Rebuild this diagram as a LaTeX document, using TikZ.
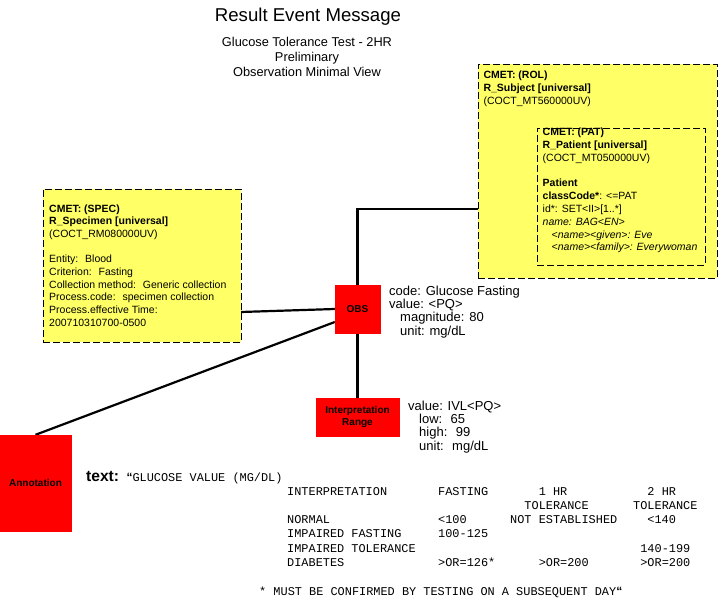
\documentclass[tikz,border=0pt]{standalone}
\usepackage{fontspec}
\setmainfont{Liberation Sans}
\setmonofont{Liberation Mono}
\usepackage{array}
\usetikzlibrary{positioning,backgrounds}

\definecolor{cmetyellow}{RGB}{255,255,102}

\tikzset{
  cmet/.style={draw, fill=cmetyellow, line width=0.9pt, dash pattern=on 7pt off 3pt, inner sep=0pt},
  act/.style={draw=red, fill=red, inner sep=0pt, align=center, font=\bfseries\fontsize{10}{12.7}\selectfont},
  link/.style={line width=2.2pt},
  boxtext/.style={anchor=base west, align=left, inner sep=0pt, font=\fontsize{10.5}{12.6}\selectfont},
  attr/.style={anchor=base west, align=left, inner sep=0pt, font=\fontsize{13}{13.3}\selectfont},
  mono/.style={anchor=base west, inner sep=0pt, font=\ttfamily\fontsize{11.9}{14.25}\selectfont}
}

\begin{document}
\begin{tikzpicture}[x=1pt,y=-1pt]
        \useasboundingbox (0,0) rectangle (719,601);

        % heading (multi-line nodes sit on their last baseline)
        \node[anchor=base, font=\fontsize{18.6}{20}\selectfont] (title) at (308,22) {Result Event Message};
        \node[anchor=base, align=center, font=\fontsize{12.8}{15}\selectfont] (subtitle) at (307,77)
                {Glucose Tolerance Test - 2HR\\Preliminary\\Observation Minimal View};

        % CMET boxes
        \node[cmet, minimum width=198pt, minimum height=153pt] (spec) at (142,265.5) {};
        \node[cmet, minimum width=239pt, minimum height=214pt] (rol) at (597.5,171) {};
        \node[cmet, minimum width=168pt, minimum height=137pt] (pat) at (621,196.5) {};

        \node[boxtext] (spectext) at (49,326) {\textbf{CMET: (SPEC)}\\ \textbf{R\_Specimen [universal]}\\
                (COCT\_RM080000UV)\\[13pt] Entity:~ Blood\\ Criterion:~ Fasting\\
                Collection method:~ Generic collection\\ Process.code:~ specimen collection\\
                Process.effective Time:\\ 200710310700-0500};
        \node[boxtext, font=\fontsize{10.5}{12.8}\selectfont] (roltext) at (483.3,104.5)
                {\textbf{CMET: (ROL)}\\ \textbf{R\_Subject [universal]}\\ (COCT\_MT560000UV)};
        \node[boxtext, font=\fontsize{10.5}{12.9}\selectfont] (pattext) at (542.5,251)
                {\textbf{CMET: (PAT)}\\ \textbf{R\_Patient [universal]}\\ (COCT\_MT050000UV)\\[12pt]
                \textbf{Patient}\\ \textbf{classCode*}: <=PAT\\ id*: SET<II>[1..*]\\ \textit{name: BAG<EN>}\\
                \hspace*{9pt}\textit{<name><given>: Eve}\\ \hspace*{9pt}\textit{<name><family>: Everywoman}};

        % act nodes
        \node[act, minimum width=45pt, minimum height=48pt] (obs) at (357.5,309) {OBS};
        \node[act, minimum width=83pt, minimum height=38pt] (range) at (357.5,417) {Interpretation\\Range};
        \node[act, minimum width=71pt, minimum height=96pt] (annot) at (35.5,483) {Annotation};

        \node[attr] (obsattr) at (389,335) {code: Glucose Fasting\\ value: <PQ>\\
                \hspace*{11pt}magnitude: 80\\ \hspace*{11pt}unit: mg/dL};
        \node[attr] (rangeattr) at (408,450) {value: IVL<PQ>\\ \hspace*{11pt}low:~ 65\\
                \hspace*{11pt}high:~ 99\\ \hspace*{11pt}unit:~ mg/dL};

        % connectors
        \coordinate (subjport) at (479,209);
        \coordinate (specport) at (241,312);
        \begin{scope}[on background layer]
                \draw[link] (obs.north) |- (subjport);
                \draw[link] (specport) -- (obs.west);
                \draw[link] ([yshift=-13pt]obs.west) -- (annot.north);
                \draw[link] (obs.south) -- (range.north);
        \end{scope}

        % annotation text
        \node[anchor=base west, inner sep=0pt, font=\bfseries\fontsize{15.6}{18}\selectfont] (textlabel) at (86,481) {text:};
        \node[mono, base right=7pt of textlabel] (glucosehead)
                {{\rmfamily\bfseries\fontsize{12}{14}\selectfont“}GLUCOSE VALUE (MG/DL)};
        \node[mono] (glucosetable) at (287,495) {\begin{tabular}[t]{@{}p{151pt}@{}p{72pt}@{}p{123pt}@{}l@{}}
                INTERPRETATION & FASTING & \ \ \ \ 1 HR & \ \ 2 HR\\
                & & \ \ TOLERANCE & TOLERANCE\\
                NORMAL & <100 & NOT ESTABLISHED & \ \ <140\\
                IMPAIRED FASTING & 100-125 & & \\
                IMPAIRED TOLERANCE & & & \ 140-199\\
                DIABETES & >OR=126* & \ \ \ \ >OR=200 & \ >OR=200
                \end{tabular}};
        \node[mono] (footnote) at (259,595.5)
                {* MUST BE CONFIRMED BY TESTING ON A SUBSEQUENT DAY{\rmfamily\bfseries\fontsize{12}{14}\selectfont“}};
\end{tikzpicture}
\end{document}
